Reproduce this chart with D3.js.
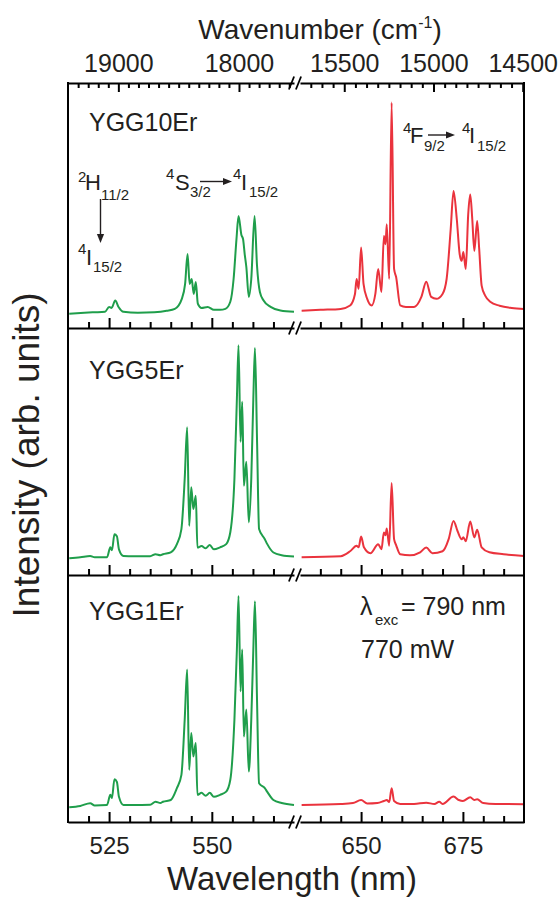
<!DOCTYPE html>
<html><head><meta charset="utf-8">
<script src="https://cdn.jsdelivr.net/npm/d3@7/dist/d3.min.js"></script>
<style>body{margin:0;background:#fff}svg{display:block}</style>
</head><body>
<script>
// ---------------- data ----------------
const panelNames = ["YGG10Er", "YGG5Er", "YGG1Er"];

const ygg10GreenNm = [515.3,519,521,524,525.0,525.6,526.5,527.3,528.5,532,536,539,541,542.7,543.5,544.1,544.6,545.1,545.6,546.1,546.6,547.5,549,550.5,552,553.3,554.5,555.3,556.0,556.5,557.2,557.6,558.0,558.4,559.0,559.6,560.4,561.0,561.7,562.6,564.3,566.7,570];
const ygg10GreenI  = [5.8,6.2,6.4,6.6,8.6,8.2,11.2,8.6,6.6,6.2,6.4,7.0,7.8,11.9,18,30.2,18,20,13.9,18.8,9.9,8.2,8.6,7.4,7.4,7.8,10.7,20,36.3,45.7,38,36.3,30.2,24.9,12.7,20,45.7,25.4,14.7,11.2,8.6,7.1,6.6];
const ygg10RedNm = [635.4,640,645,647.3,648.5,648.9,649.4,650.0,650.6,651.5,652.6,653.5,654.2,655.0,655.6,656.0,656.3,656.9,657.5,658.1,658.6,659.6,661,663,664.8,666,667.2,668.5,670,671,672,672.7,673.5,674.2,674.7,675.1,675.7,676.3,676.8,677.3,677.8,678.5,679.0,679.6,680.5,681.7,684,687,690];
const ygg10RedI  = [7.0,7.4,7.8,9.2,13.9,20,16,32.9,18,11.9,9.2,13.9,24.1,14.7,37.6,34.2,42.3,20,92,24.1,20.8,9.2,8.6,8.6,12.7,18.9,12.7,11.9,13.9,20,40.3,55.9,44.4,30.2,27.4,31,24.1,46.4,54.5,44.4,31.5,43.7,32.2,17.3,13.1,10.7,9.1,8.2,7.8];

const ygg5GreenNm = [515.3,518,520.4,521.5,524.5,525.3,525.7,526.3,526.9,527.4,528.5,531,535,536.3,537.5,538.1,540,541.5,542.6,543.4,544.0,544.5,545.0,545.5,546.1,546.5,547.5,548.5,549.5,550.5,552,553.5,554.5,555.5,556.1,556.5,557.0,557.4,557.8,558.4,559.0,559.6,560.1,560.5,561.0,561.5,562.9,563.5,565,567,570];
const ygg5GreenI  = [6.8,7.2,7.7,7.2,7.2,11.2,10,16.5,15.7,10.4,7.7,7.6,7.6,8.4,8,8.4,9.2,12.5,18.6,38.9,59.8,19.9,35.5,26.7,32.1,11.1,11.7,10.8,12.1,10.4,11.2,12.5,17.3,38.9,71.3,93,53.9,70.1,36.1,45.8,21.3,38.9,71.3,91.9,55,18.6,14.5,12.5,9.1,8,7.5];
const ygg5RedNm = [635.4,645,647.3,648.9,649.4,650.0,650.7,652.3,654.2,655.0,655.6,656.0,656.3,656.9,657.5,658.1,658.6,659.6,662,664.5,666,667.5,670,671.5,672.7,673.7,674.7,675.1,675.7,676.8,677.8,678.5,679.6,681.5,685,690];
const ygg5RedI  = [7.2,7.6,9.6,11.8,11.2,15.6,11.2,8.8,12.5,10.4,17.2,16.1,18.8,11.8,37.2,14.5,12.1,8.4,8,9.2,11.1,8.8,9.6,14.5,21.9,17.7,14.5,15.3,13.7,21.7,15.2,18.3,11.2,9.2,8.4,7.7];

const ygg1GreenNm = [515.3,518,520.4,521.5,524.5,525.3,525.7,526.3,526.9,527.4,528.5,531,535,536.3,537.5,538.1,540,541.5,542.6,543.4,544.0,544.5,545.0,545.5,546.1,546.5,547.5,548.5,549.5,550.5,552,553.5,554.5,555.5,556.1,556.5,557.0,557.4,557.8,558.4,559.0,559.6,560.1,560.5,561.0,561.5,562.9,563.5,565,567,570];
const ygg1GreenI  = [6,6.5,7.6,6.7,6.9,11,9.7,17.3,16.2,10.2,6.9,6.9,7.0,8.2,7.7,8.2,8.9,13.7,19.1,41.4,61.7,21.1,36,26.5,32,11,11.8,10.6,11.8,10.2,11,12.3,17.1,41.4,69.8,91.5,52.9,69.8,34.6,45.5,20.4,41.4,69.8,89.4,49.5,15.7,13.7,12.2,8.9,7.7,6.9];
const ygg1RedNm = [635.4,645,648,650,651.5,654,655.6,656.3,656.9,657.5,658.1,659.6,663,666,668,669.2,670,672.7,674,675,676.8,677.8,678.5,680,683,690];
const ygg1RedI  = [6.9,7.3,7.7,8.9,7.5,7.7,8.5,8.9,8.1,13.7,8.5,7.3,7.3,7.8,7.3,8.2,7.3,10.3,8.9,8.5,10,8.9,9.2,7.7,7.3,7.2];

const nmDomainLeft = [515, 570], nmDomainRight = [635, 690];
const bottomMajorLeft = [525, 550], bottomMajorRight = [650, 675];
const bottomMinorLeft = [520, 530, 535, 540, 545, 555, 560, 565];
const bottomMinorRight = [640, 645, 655, 660, 665, 670, 680, 685];
const topMajorLeft = [19000, 18000], topMajorRight = [15500, 15000, 14500];

// ---------------- layout ----------------
const W = 560, H = 897;
const L = 68, BL = 294, BR = 300, R = 524;
const rowsY = [83, 328, 575, 822];
const GREEN = "#1f9e4b", RED = "#ea333d", INK = "#231f20";
const FONT = "'Liberation Sans', Arial, Helvetica, sans-serif";

const svg = d3.select("body").append("svg").attr("width", W).attr("height", H)
  .style("font-family", FONT);

const xL = d3.scaleLinear().domain(nmDomainLeft).range([L, BL]);
const xR = d3.scaleLinear().domain(nmDomainRight).range([BR, R]);
const kL = d3.scaleLinear().domain(nmDomainLeft.map(v => 1e7 / v)).range([L, BL]);
const kR = d3.scaleLinear().domain(nmDomainRight.map(v => 1e7 / v)).range([BR, R]);

const series = [
  [ygg10GreenNm, ygg10GreenI, ygg10RedNm, ygg10RedI],
  [ygg5GreenNm, ygg5GreenI, ygg5RedNm, ygg5RedI],
  [ygg1GreenNm, ygg1GreenI, ygg1RedNm, ygg1RedI]
];

function styleAxis(g, fs) {
  g.select(".domain").attr("stroke", "#000").attr("stroke-width", 2);
  g.selectAll(".tick line").attr("stroke", "#000").attr("stroke-width", 2);
  g.selectAll("text").attr("fill", INK).style("font-size", fs + "px").style("font-family", FONT);
}

series.forEach((s, i) => {
  const top = rowsY[i], bot = rowsY[i + 1];
  const y = d3.scaleLinear().domain([0, 100]).range([bot, top]);
  const gL = d3.line().x(d => xL(d[0])).y(d => y(d[1])).curve(d3.curveMonotoneX);
  const gR = d3.line().x(d => xR(d[0])).y(d => y(d[1])).curve(d3.curveMonotoneX);
  svg.append("path").attr("d", gL(d3.zip(s[0], s[1]))).attr("fill", "none")
    .attr("stroke", GREEN).attr("stroke-width", 2).attr("stroke-linejoin", "round");
  svg.append("path").attr("d", gR(d3.zip(s[2], s[3]))).attr("fill", "none")
    .attr("stroke", RED).attr("stroke-width", 2).attr("stroke-linejoin", "round");

  const last = i === 2;
  [[xL, bottomMinorLeft, bottomMajorLeft], [xR, bottomMinorRight, bottomMajorRight]].forEach(([sc, mn, mj]) => {
    const gm = svg.append("g").attr("transform", `translate(0,${bot})`)
      .call(d3.axisBottom(sc).tickValues(mn).tickSizeInner(-6).tickSizeOuter(0).tickFormat(""));
    styleAxis(gm, 24);
    const gM = svg.append("g").attr("transform", `translate(0,${bot})`)
      .call(d3.axisBottom(sc).tickValues(mj).tickSizeInner(-10).tickSizeOuter(0).tickPadding(15)
        .tickFormat(last ? d3.format("d") : ""));
    styleAxis(gM, 24);
    gM.select(".domain").remove();
  });

  svg.append("text").attr("x", 89).attr("y", [131, 379, 620][i]).attr("fill", INK)
    .style("font-size", "25px").text(panelNames[i]);
});

// top axis (wavenumber), ticks pointing into the plot
[[kL, topMajorLeft, 1000 / 12], [kR, topMajorRight, 62.5]].forEach(([sc, mj, step]) => {
  const dom = sc.domain();
  const lo = Math.min(dom[0], dom[1]), hi = Math.max(dom[0], dom[1]);
  const minor = d3.range(mj[0] - step * 40, mj[0] + step * 40, step)
    .filter(v => v > lo + step * 0.4 && v < hi - step * 0.4 && !mj.some(m => Math.abs(m - v) < 1));
  const gm = svg.append("g").attr("transform", `translate(0,${rowsY[0]})`)
    .call(d3.axisTop(sc).tickValues(minor).tickSizeInner(-5).tickSizeOuter(0).tickFormat(""));
  styleAxis(gm, 25);
  const gM = svg.append("g").attr("transform", `translate(0,${rowsY[0]})`)
    .call(d3.axisTop(sc).tickValues(mj).tickSizeInner(-9).tickSizeOuter(0).tickPadding(11).tickFormat(d3.format("d")));
  styleAxis(gM, 25);
  gM.select(".domain").remove();
});

// frame verticals
[L, R].forEach(x => svg.append("line").attr("x1", x).attr("x2", x)
  .attr("y1", rowsY[0] - 1).attr("y2", rowsY[3] + 1).attr("stroke", "#000").attr("stroke-width", 2));

// axis break marks
rowsY.forEach(yy => {
  [291.5, 298.5].forEach(cx => svg.append("line")
    .attr("x1", cx - 2.6).attr("y1", yy + 6.5).attr("x2", cx + 2.6).attr("y2", yy - 6.5)
    .attr("stroke", "#000").attr("stroke-width", 1.8));
});

// titles
const t1 = svg.append("text").attr("x", 320).attr("y", 39).attr("text-anchor", "middle")
  .attr("fill", INK).style("font-size", "28px");
t1.append("tspan").text("Wavenumber (cm");
t1.append("tspan").attr("dy", -11).style("font-size", "16px").text("-1");
t1.append("tspan").attr("dy", 11).text(")");

svg.append("text").attr("x", 292).attr("y", 890).attr("text-anchor", "middle")
  .attr("fill", INK).style("font-size", "33px").text("Wavelength (nm)");

svg.append("text").attr("transform", "translate(39,455) rotate(-90)").attr("text-anchor", "middle")
  .attr("fill", INK).style("font-size", "37px").text("Intensity (arb. units)");

// annotations
function txt(x, y, s, fs) {
  svg.append("text").attr("x", x).attr("y", y).attr("fill", INK).style("font-size", fs + "px").text(s);
}
const big = 22, small = 15;
txt(78, 182, "2", small); txt(85, 190, "H", big); txt(101, 200, "11/2", small);
txt(78, 254, "4", small); txt(86, 265, "I", big); txt(93, 272, "15/2", small);
txt(166, 179, "4", small); txt(175, 190, "S", big); txt(190, 197, "3/2", small);
txt(233, 179, "4", small); txt(241, 190, "I", big); txt(249, 197, "15/2", small);
txt(403, 133, "4", small); txt(410, 143, "F", big); txt(424, 151, "9/2", small);
txt(462, 133, "4", small); txt(469, 143, "I", big); txt(477, 151, "15/2", small);

function arrow(x1, y1, x2, y2) {
  const a = Math.atan2(y2 - y1, x2 - x1), len = 9, w = 3.6;
  const bx = x2 - len * Math.cos(a), by = y2 - len * Math.sin(a);
  svg.append("line").attr("x1", x1).attr("y1", y1).attr("x2", bx).attr("y2", by)
    .attr("stroke", INK).attr("stroke-width", 1.4);
  svg.append("path").attr("fill", INK).attr("d",
    `M${x2},${y2}L${bx + w * Math.sin(a)},${by - w * Math.cos(a)}L${bx - w * Math.sin(a)},${by + w * Math.cos(a)}Z`);
}
arrow(100.5, 199, 100.5, 243);
arrow(200, 181.5, 232, 181.5);
arrow(428, 135, 455, 135);

// excitation note
txt(360, 615, "\u03bb", 25); txt(375, 625, "exc", 15); txt(401, 615, "= 790 nm", 25);
txt(361, 658, "770 mW", 25);
</script>
</body></html>
